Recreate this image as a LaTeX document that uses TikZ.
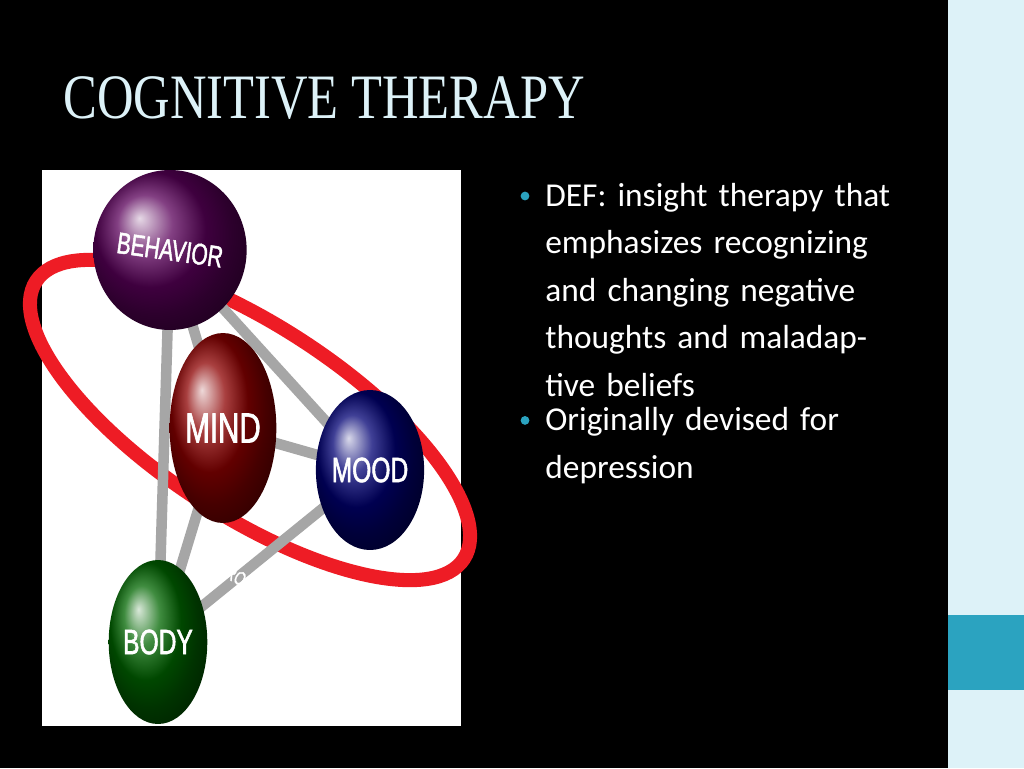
\documentclass[tikz,border=0pt]{standalone}
\usepackage{fontspec}
\setmainfont{Liberation Serif}
\newfontfamily\bodyfont{Carlito}
\newfontfamily\labelfont{Liberation Sans}[FakeStretch=0.7,FakeBold=1.5]
\usetikzlibrary{positioning,shapes.geometric}
\definecolor{slidebg}{HTML}{000000}
\definecolor{stripblue}{HTML}{DDF2F8}
\definecolor{stripteal}{HTML}{2BA3C0}
\definecolor{titleblue}{HTML}{DDF2F8}
\definecolor{ringred}{HTML}{EE1C25}
\begin{document}
\begin{tikzpicture}[x=0.02cm,y=-0.02cm,
    ball/.style={ellipse, inner sep=0pt, minimum width=#1*0.02cm, text=white, font=\labelfont\fontsize{17}{17}\selectfont},
    rod/.style={line width=6pt, draw=gray!70, line cap=round},
    bullettext/.style={anchor=north west, align=left, text width=200pt, text=white,
      font=\bodyfont\fontsize{19}{27}\selectfont, inner sep=0pt}
  ]
  % background
  \fill[slidebg] (0,0) rectangle (1024,768);
  \useasboundingbox (0,0) rectangle (1024,768);
  \fill[stripblue] (948,0) rectangle (1024,768);
  \fill[stripteal] (948,615) rectangle (1024,690);
  \fill[white] (42,170) rectangle (461,726);

  % title
  \node[anchor=west, text=titleblue, inner sep=0pt] (title) at (63,98)
    {\fontsize{36}{36}\selectfont\scalebox{0.8}[1]{COGNITIVE THERAPY}};

  % ring (back)
  \draw[ringred, line width=8pt] (250,420) ellipse [x radius=255, y radius=95, rotate=-33];

  % sphere positions
  \coordinate (behaviorc) at (170,250);
  \coordinate (mindc) at (223,428);
  \coordinate (moodc) at (370,470);
  \coordinate (bodyc) at (158,642);

  % rods
  \draw[rod] (behaviorc) -- (mindc);
  \draw[rod] (behaviorc) -- (moodc);
  \draw[rod] (behaviorc) -- (bodyc);
  \draw[rod] (mindc) -- (moodc);
  \draw[rod] (mindc) -- (bodyc);
  \draw[rod] (bodyc) -- (moodc);

  % spheres
  \node[ball=90, minimum height=3.2cm, ball color=violet!70!black] (behavior) at (behaviorc) {\rotatebox{-8}{BEHAVIOR}};
  \node[ball=100, minimum height=3.8cm, ball color=red!55!black] (mind) at (mindc) {\fontsize{24}{24}\selectfont MIND};
  \node[ball=84, minimum height=3.2cm, ball color=blue!45!black] (mood) at (moodc) {\fontsize{20}{20}\selectfont MOOD};
  \node[ball=84, minimum height=3.28cm, ball color=green!40!black] (body) at (bodyc) {\fontsize{20}{20}\selectfont BODY};

  % ring label
  \node[text=white, rotate=-30, font=\labelfont\fontsize{11}{11}\selectfont] (env) at (243,580) {ENVIRONMENT};

  % bullets
  \node[bullettext] (def) at (545,183) {DEF: insight therapy that emphasizes recognizing and changing negative thoughts and maladaptive beliefs};
  \node[bullettext, below=6pt of def.south west, anchor=north west] (orig) {Originally devised for depression};
  \fill[stripteal] ([xshift=-0.4cm,yshift=-0.26cm]def.north west) circle (2.5pt);
  \fill[stripteal] ([xshift=-0.4cm,yshift=-0.26cm]orig.north west) circle (2.5pt);
\end{tikzpicture}
\end{document}
